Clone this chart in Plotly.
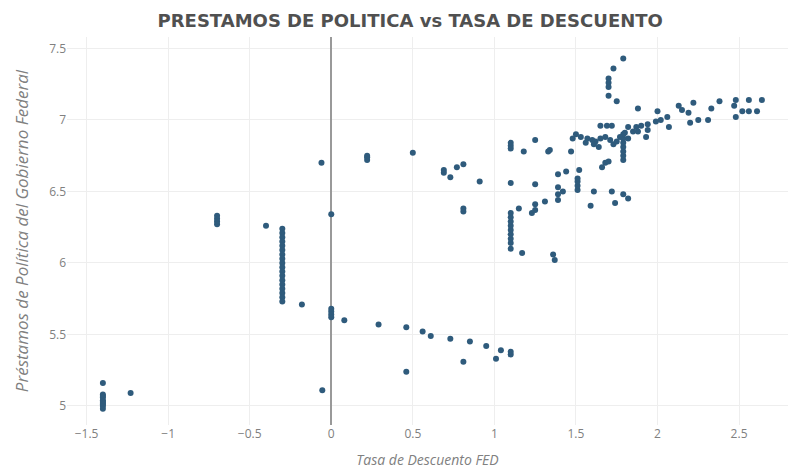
import plotly.graph_objects as go

# Tasa de Descuento FED (x) vs Prestamos de Politica del Gobierno Federal (y)
tasa_descuento = [
    -1.40, -1.40, -1.40, -1.40, -1.40, -1.40, -1.40, -1.40, -1.40, -1.40, -1.23,
    -0.70, -0.70, -0.70, -0.70, -0.40,
    -0.30, -0.30, -0.30, -0.30, -0.30, -0.30, -0.30, -0.30, -0.30, -0.30,
    -0.30, -0.30, -0.30, -0.30, -0.30, -0.30, -0.30, -0.30,
    -0.18, -0.06, 0.00, 0.00, 0.00, 0.00, 0.00, 0.08, -0.055, 0.29,
    0.46, 0.46, 0.56, 0.61, 0.73, 0.85, 0.81, 0.95, 1.01, 1.04, 1.10, 1.10,
    0.22, 0.22, 0.22, 0.50, 0.69, 0.69, 0.73, 0.77, 0.81, 0.91, 0.81, 0.81,
    1.10, 1.10, 1.10, 1.18, 1.25, 1.33, 1.34, 1.47,
    1.10, 1.25, 1.39, 1.44, 1.52, 1.39, 1.42, 1.39, 1.39,
    1.51, 1.51, 1.51, 1.51,
    1.61, 1.72, 1.79, 1.82, 1.74, 1.59, 1.68, 1.70, 1.66,
    1.31, 1.25, 1.25, 1.23, 1.15,
    1.10, 1.10, 1.10, 1.10, 1.10, 1.10, 1.10, 1.10, 1.10,
    1.17, 1.36, 1.37,
    1.79, 1.79, 1.79, 1.79, 1.79, 1.79, 1.79,
    1.79, 1.73, 1.70, 1.70, 1.70, 1.70, 1.75, 1.88,
    2.00, 2.06, 1.99, 1.94, 2.07, 2.13, 2.15, 2.19, 2.22, 2.20, 2.25, 2.33,
    2.31, 2.38, 2.48, 2.47, 2.48, 2.52, 2.56, 2.56, 2.61, 2.64, 2.02,
    1.65, 1.69, 1.72, 1.82, 1.87, 1.90, 1.94, 1.93, 1.88, 1.85, 1.80, 1.77,
    1.82, 1.50, 1.53, 1.57, 1.60, 1.62, 1.65, 1.68, 1.71, 1.73, 1.75, 1.48,
    1.56, 1.61, 1.64,
]
prestamos_politica = [
    5.16, 5.08, 5.07, 5.06, 5.04, 5.03, 5.02, 5.01, 5.00, 4.98, 5.09,
    6.27, 6.29, 6.31, 6.33, 6.26,
    6.24, 6.21, 6.18, 6.15, 6.12, 6.09, 6.06, 6.03, 6.00, 5.97,
    5.94, 5.91, 5.88, 5.85, 5.82, 5.79, 5.76, 5.73,
    5.71, 6.70, 6.34, 5.62, 5.64, 5.66, 5.68, 5.60, 5.11, 5.57,
    5.55, 5.24, 5.52, 5.49, 5.47, 5.45, 5.31, 5.42, 5.33, 5.39, 5.36, 5.38,
    6.72, 6.74, 6.75, 6.77, 6.65, 6.63, 6.60, 6.67, 6.69, 6.57, 6.36, 6.38,
    6.84, 6.82, 6.80, 6.78, 6.86, 6.78, 6.79, 6.78,
    6.56, 6.55, 6.62, 6.64, 6.65, 6.53, 6.50, 6.48, 6.44,
    6.51, 6.54, 6.57, 6.59,
    6.50, 6.50, 6.48, 6.45, 6.42, 6.40, 6.70, 6.71, 6.67,
    6.43, 6.41, 6.37, 6.35, 6.38,
    6.10, 6.14, 6.17, 6.20, 6.23, 6.26, 6.29, 6.32, 6.35,
    6.07, 6.06, 6.02,
    6.72, 6.75, 6.78, 6.81, 6.84, 6.87, 6.90,
    7.43, 7.36, 7.29, 7.26, 7.23, 7.17, 7.13, 7.08,
    7.06, 7.02, 6.99, 6.97, 6.95, 7.10, 7.07, 7.05, 7.12, 6.98, 7.00, 7.08,
    7.00, 7.13, 7.14, 7.10, 7.02, 7.06, 7.14, 7.06, 7.06, 7.14, 7.00,
    6.96, 6.96, 6.96, 6.95, 6.95, 6.96, 6.93, 6.88, 6.92, 6.92, 6.91, 6.88,
    6.87, 6.90, 6.88, 6.87, 6.86, 6.85, 6.87, 6.88, 6.86, 6.83, 6.85, 6.87,
    6.84, 6.83, 6.81,
]

fig = go.Figure(
    go.Scatter(
        x=tasa_descuento,
        y=prestamos_politica,
        mode="markers",
        marker=dict(size=6, color="#2f5b7c"),
        showlegend=False,
    )
)

fig.update_layout(
    width=798,
    height=472,
    template="plotly_white",
    paper_bgcolor="white",
    plot_bgcolor="white",
    margin=dict(l=59, r=18, t=29, b=55),
    font=dict(family="Open Sans", color="#808080", size=12),
    title=dict(
        text="<b>PRESTAMOS DE POLITICA vs TASA DE DESCUENTO</b>",
        x=0.504, xref="container", xanchor="center",
        y=0.974, yref="container", yanchor="middle",
        font=dict(family="DejaVu Sans", size=18, color="#505050"),
    ),
    xaxis=dict(
        title=dict(text="<i>Tasa de Descuento FED</i>", font=dict(size=14, color="#808080"), standoff=14),
        range=[-1.62, 2.80],
        dtick=0.5,
        gridcolor="#eeeeee",
        zeroline=True,
        zerolinecolor="#999999",
        zerolinewidth=2,
        showline=False,
        ticks="",
    ),
    yaxis=dict(
        title=dict(text="<i>Préstamos de Política del Gobierno Federal</i>", font=dict(size=17, color="#808080"), standoff=16),
        range=[4.867, 7.58],
        dtick=0.5,
        gridcolor="#eeeeee",
        zeroline=False,
        showline=False,
        ticks="",
    ),
)

fig.write_html("out.html")
